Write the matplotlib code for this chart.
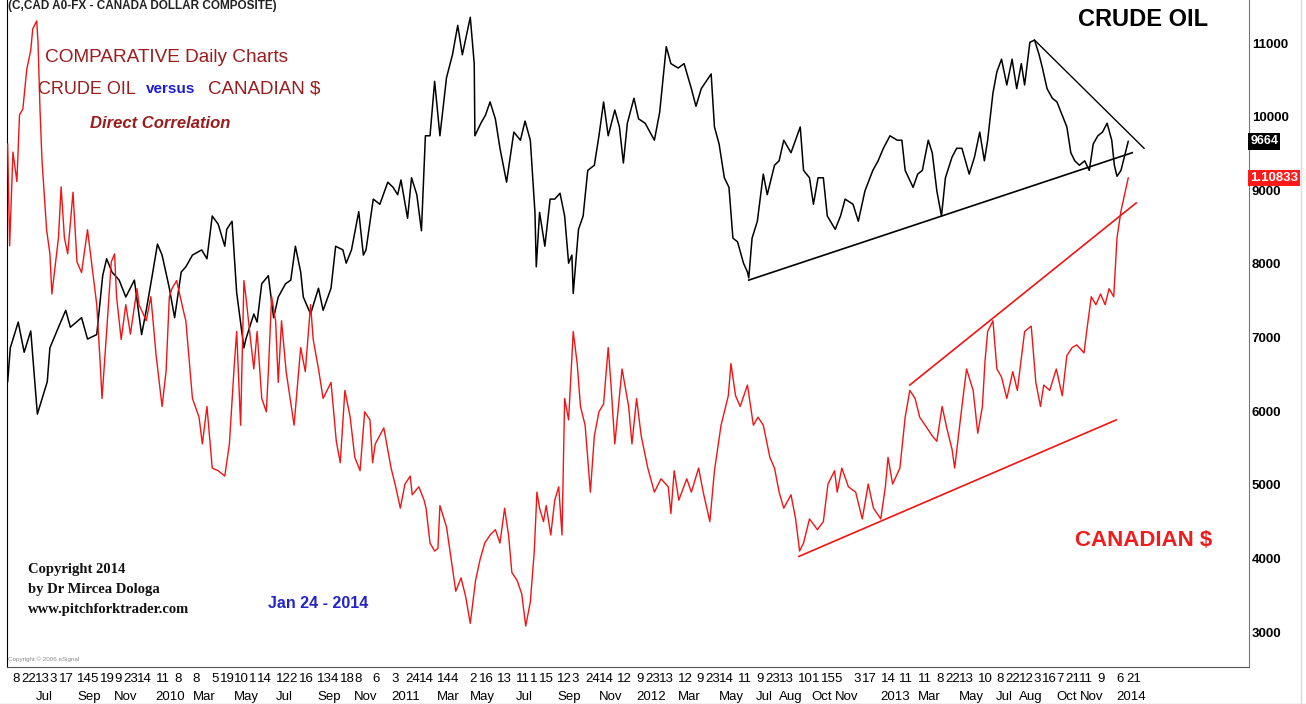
import numpy as np
import pandas as pd
import matplotlib
matplotlib.use("Agg")
import matplotlib.pyplot as plt
import matplotlib.transforms as mtransforms
from matplotlib.lines import Line2D

# crude oil composite (x100)
crude_dates = [
    "2009-06-01", "2009-06-05", "2009-06-17", "2009-06-26", "2009-07-06", "2009-07-16", "2009-07-31",
    "2009-08-04", "2009-08-17", "2009-08-28", "2009-09-04", "2009-09-21", "2009-09-30", "2009-10-14",
    "2009-10-23", "2009-10-29", "2009-11-06", "2009-11-17", "2009-11-27", "2009-12-10", "2009-12-21",
    "2009-12-28", "2010-01-06", "2010-01-14", "2010-01-21", "2010-02-01", "2010-02-09", "2010-02-19",
    "2010-02-26", "2010-03-08", "2010-03-22", "2010-03-30", "2010-04-07", "2010-04-16", "2010-04-26",
    "2010-04-29", "2010-05-07", "2010-05-14", "2010-05-25", "2010-05-28", "2010-06-09", "2010-06-14",
    "2010-06-21", "2010-07-01", "2010-07-09", "2010-07-16", "2010-07-27", "2010-08-04", "2010-08-11",
    "2010-08-19", "2010-08-23", "2010-09-03", "2010-09-15", "2010-09-22", "2010-10-04", "2010-10-11",
    "2010-10-22", "2010-10-27", "2010-11-04", "2010-11-15", "2010-11-22", "2010-11-26", "2010-12-07",
    "2010-12-17", "2010-12-29", "2011-01-06", "2011-01-13", "2011-01-18", "2011-01-28", "2011-02-03",
    "2011-02-11", "2011-02-18", "2011-02-24", "2011-03-03", "2011-03-10", "2011-03-18", "2011-03-28",
    "2011-04-06", "2011-04-14", "2011-04-21", "2011-04-29", "2011-05-03", "2011-05-09", "2011-05-10",
    "2011-05-19", "2011-05-26", "2011-06-02", "2011-06-10", "2011-06-17", "2011-06-27", "2011-07-08",
    "2011-07-18", "2011-07-25", "2011-08-02", "2011-08-09", "2011-08-11", "2011-08-16", "2011-08-24",
    "2011-09-01", "2011-09-08", "2011-09-16", "2011-09-23", "2011-09-29", "2011-10-04", "2011-10-06",
    "2011-10-14", "2011-10-21", "2011-10-28", "2011-11-07", "2011-11-14", "2011-11-21", "2011-11-28",
    "2011-12-08", "2011-12-15", "2011-12-21", "2011-12-27", "2012-01-06", "2012-01-13", "2012-01-23",
    "2012-02-06", "2012-02-14", "2012-02-24", "2012-03-02", "2012-03-13", "2012-03-22", "2012-04-02",
    "2012-04-09", "2012-04-17", "2012-05-02", "2012-05-07", "2012-05-14", "2012-05-22", "2012-05-29",
    "2012-06-04", "2012-06-11", "2012-06-20", "2012-06-26", "2012-06-28", "2012-07-03", "2012-07-11",
    "2012-07-20", "2012-07-26", "2012-08-06", "2012-08-13", "2012-08-20", "2012-08-31", "2012-09-14",
    "2012-09-19", "2012-09-28", "2012-10-04", "2012-10-11", "2012-10-19", "2012-10-25", "2012-11-06",
    "2012-11-14", "2012-11-21", "2012-12-03", "2012-12-11", "2012-12-21", "2013-01-02", "2013-01-10",
    "2013-01-18", "2013-01-28", "2013-02-08", "2013-02-15", "2013-02-20", "2013-03-04", "2013-03-11",
    "2013-03-18", "2013-03-27", "2013-04-02", "2013-04-09", "2013-04-16", "2013-04-22", "2013-05-02",
    "2013-05-09", "2013-05-17", "2013-05-28", "2013-06-05", "2013-06-13", "2013-06-20", "2013-06-25",
    "2013-07-03", "2013-07-09", "2013-07-16", "2013-07-24", "2013-08-01", "2013-08-08", "2013-08-15",
    "2013-08-20", "2013-08-28", "2013-09-04", "2013-09-11", "2013-09-16", "2013-09-23", "2013-10-01",
    "2013-10-08", "2013-10-16", "2013-10-23", "2013-10-29", "2013-11-04", "2013-11-11", "2013-11-19",
    "2013-11-26", "2013-12-02", "2013-12-09", "2013-12-16", "2013-12-23", "2013-12-30", "2014-01-03",
    "2014-01-07", "2014-01-13", "2014-01-24",
]
crude_close = [
    6400, 6860, 7210, 6800, 7090, 5960, 6400,
    6860, 7140, 7370, 7140, 7270, 6980, 7040,
    7840, 8070, 7890, 7780, 7550, 7780, 7040,
    7370, 7840, 8270, 8120, 7670, 7270, 7890,
    7960, 8120, 8190, 8070, 8650, 8540, 8240,
    8470, 8580, 7610, 6860, 6980, 7320, 7210,
    7730, 7840, 7270, 7550, 7730, 7780, 8240,
    7890, 7550, 7320, 7670, 7370, 7670, 8240,
    8190, 8010, 8190, 8710, 8120, 8190, 8880,
    8810, 9110, 9040, 8940, 9140, 8620, 9170,
    8940, 8450, 9740, 9740, 10480, 9740, 10530,
    10840, 11240, 10840, 11180, 11350, 10720, 9740,
    9910, 10020, 10200, 9970, 9570, 9110, 9790,
    9680, 9940, 9680, 8700, 7960, 8700, 8240,
    8880, 8880, 8960, 8650, 8010, 8120, 7600,
    8470, 8650, 9270, 9340, 9740, 10200, 9740,
    10090, 9860, 9370, 9910, 10250, 9970, 9910,
    9680, 10060, 10950, 10720, 10660, 10720, 10380,
    10140, 10380, 10580, 9860, 9630, 9170, 9040,
    8350, 8300, 8010, 7890, 7810, 8350, 8580,
    9220, 8940, 9340, 9400, 9680, 9510, 9860,
    9270, 9170, 8810, 9170, 9170, 8650, 8470,
    8650, 8880, 8810, 8580, 8990, 9270, 9400,
    9570, 9740, 9680, 9680, 9270, 9040, 9220,
    9270, 9680, 9510, 8990, 8650, 9170, 9450,
    9570, 9570, 9220, 9450, 9790, 9400, 9680,
    10320, 10610, 10780, 10430, 10780, 10380, 10720,
    10430, 11010, 11040, 10840, 10660, 10380, 10250,
    10200, 10020, 9860, 9510, 9400, 9340, 9400,
    9270, 9630, 9740, 9790, 9910, 9680, 9340,
    9190, 9270, 9664,
]

# USD/CAD (canadian dollar composite)
cad_dates = [
    "2009-06-01", "2009-06-04", "2009-06-09", "2009-06-15", "2009-06-19", "2009-06-24", "2009-06-30",
    "2009-07-06", "2009-07-09", "2009-07-15", "2009-07-17", "2009-07-20", "2009-07-23", "2009-07-30",
    "2009-08-04", "2009-08-07", "2009-08-17", "2009-08-21", "2009-08-26", "2009-08-31", "2009-09-08",
    "2009-09-14", "2009-09-21", "2009-09-30", "2009-10-08", "2009-10-14", "2009-10-19", "2009-10-22",
    "2009-10-29", "2009-11-05", "2009-11-10", "2009-11-13", "2009-11-20", "2009-11-27", "2009-12-04",
    "2009-12-14", "2009-12-17", "2009-12-28", "2010-01-04", "2010-01-12", "2010-01-21", "2010-01-27",
    "2010-02-01", "2010-02-05", "2010-02-12", "2010-02-23", "2010-02-26", "2010-03-08", "2010-03-18",
    "2010-03-23", "2010-03-30", "2010-04-07", "2010-04-16", "2010-04-26", "2010-05-03", "2010-05-10",
    "2010-05-14", "2010-05-20", "2010-05-25", "2010-05-28", "2010-06-04", "2010-06-09", "2010-06-14",
    "2010-06-21", "2010-06-28", "2010-07-01", "2010-07-06", "2010-07-12", "2010-07-16", "2010-07-21",
    "2010-07-28", "2010-08-09", "2010-08-19", "2010-08-26", "2010-09-03", "2010-09-07", "2010-09-15",
    "2010-09-22", "2010-10-04", "2010-10-12", "2010-10-18", "2010-10-25", "2010-11-02", "2010-11-09",
    "2010-11-17", "2010-11-24", "2010-12-02", "2010-12-06", "2010-12-10", "2010-12-23", "2011-01-03",
    "2011-01-10", "2011-01-17", "2011-01-24", "2011-02-01", "2011-02-04", "2011-02-14", "2011-02-22",
    "2011-02-25", "2011-03-03", "2011-03-10", "2011-03-15", "2011-03-18", "2011-03-28", "2011-04-04",
    "2011-04-11", "2011-04-19", "2011-04-26", "2011-05-03", "2011-05-11", "2011-05-18", "2011-05-25",
    "2011-06-02", "2011-06-10", "2011-06-17", "2011-06-24", "2011-06-30", "2011-07-05", "2011-07-13",
    "2011-07-20", "2011-07-26", "2011-08-02", "2011-08-08", "2011-08-12", "2011-08-16", "2011-08-22",
    "2011-08-26", "2011-09-02", "2011-09-08", "2011-09-14", "2011-09-19", "2011-09-23", "2011-09-29",
    "2011-10-06", "2011-10-12", "2011-10-17", "2011-10-24", "2011-11-01", "2011-11-07", "2011-11-14",
    "2011-11-21", "2011-11-28", "2011-12-02", "2011-12-08", "2011-12-19", "2011-12-29", "2012-01-03",
    "2012-01-10", "2012-01-17", "2012-01-27", "2012-02-06", "2012-02-16", "2012-02-27", "2012-03-02",
    "2012-03-07", "2012-03-14", "2012-03-26", "2012-04-02", "2012-04-13", "2012-04-20", "2012-04-30",
    "2012-05-07", "2012-05-17", "2012-05-28", "2012-06-01", "2012-06-08", "2012-06-15", "2012-06-26",
    "2012-07-05", "2012-07-12", "2012-07-20", "2012-07-30", "2012-08-06", "2012-08-13", "2012-08-20",
    "2012-08-31", "2012-09-07", "2012-09-13", "2012-09-19", "2012-09-28", "2012-10-10", "2012-10-19",
    "2012-10-26", "2012-11-05", "2012-11-09", "2012-11-16", "2012-11-26", "2012-12-07", "2012-12-17",
    "2012-12-26", "2013-01-03", "2013-01-14", "2013-01-21", "2013-01-25", "2013-02-01", "2013-02-12",
    "2013-02-20", "2013-02-27", "2013-03-07", "2013-03-14", "2013-03-25", "2013-04-02", "2013-04-09",
    "2013-04-17", "2013-04-24", "2013-05-02", "2013-05-06", "2013-05-17", "2013-05-24", "2013-06-03",
    "2013-06-10", "2013-06-17", "2013-06-21", "2013-06-25", "2013-07-03", "2013-07-09", "2013-07-16",
    "2013-07-24", "2013-08-02", "2013-08-09", "2013-08-20", "2013-08-30", "2013-09-06", "2013-09-13",
    "2013-09-18", "2013-09-27", "2013-10-07", "2013-10-16", "2013-10-23", "2013-10-31", "2013-11-07",
    "2013-11-18", "2013-11-22", "2013-11-29", "2013-12-06", "2013-12-13", "2013-12-20", "2013-12-26",
    "2014-01-02", "2014-01-07", "2014-01-13", "2014-01-24",
]
cad_close = [
    1.121, 1.083, 1.118, 1.107, 1.132, 1.134, 1.149,
    1.156, 1.164, 1.167, 1.159, 1.134, 1.115, 1.089,
    1.080, 1.065, 1.086, 1.105, 1.086, 1.080, 1.103,
    1.077, 1.073, 1.089, 1.073, 1.061, 1.040, 1.026,
    1.051, 1.077, 1.080, 1.064, 1.048, 1.061, 1.050,
    1.067, 1.061, 1.055, 1.064, 1.042, 1.023, 1.036,
    1.064, 1.067, 1.070, 1.058, 1.055, 1.026, 1.019,
    1.009, 1.023, 1.000, 0.999, 0.997, 1.009, 1.037,
    1.051, 1.016, 1.070, 1.064, 1.048, 1.037, 1.051,
    1.026, 1.021, 1.036, 1.064, 1.055, 1.032, 1.055,
    1.036, 1.016, 1.045, 1.036, 1.061, 1.048, 1.037,
    1.026, 1.032, 1.010, 1.002, 1.029, 1.019, 1.004,
    0.999, 1.021, 1.018, 1.002, 1.009, 1.015, 1.000,
    0.993, 0.985, 0.994, 0.997, 0.990, 0.993, 0.988,
    0.985, 0.972, 0.969, 0.970, 0.986, 0.978, 0.966,
    0.954, 0.959, 0.952, 0.942, 0.958, 0.966, 0.972,
    0.975, 0.977, 0.972, 0.985, 0.975, 0.961, 0.958,
    0.953, 0.941, 0.950, 0.969, 0.991, 0.985, 0.980,
    0.986, 0.975, 0.988, 0.993, 0.975, 1.026, 1.018,
    1.051, 1.039, 1.023, 1.016, 0.991, 1.012, 1.021,
    1.024, 1.045, 1.032, 1.009, 1.037, 1.023, 1.009,
    1.026, 1.012, 1.000, 0.991, 0.996, 0.993, 0.983,
    0.999, 0.988, 0.996, 0.991, 1.000, 0.991, 0.980,
    0.999, 1.016, 1.027, 1.039, 1.027, 1.023, 1.031,
    1.016, 1.019, 1.016, 1.004, 1.000, 0.991, 0.985,
    0.990, 0.981, 0.969, 0.972, 0.981, 0.977, 0.980,
    0.994, 0.999, 0.991, 1.000, 0.993, 0.991, 0.981,
    0.994, 0.985, 0.981, 0.993, 1.004, 0.994, 1.000,
    1.019, 1.029, 1.026, 1.019, 1.015, 1.012, 1.010,
    1.023, 1.015, 1.007, 1.000, 1.023, 1.037, 1.029,
    1.013, 1.023, 1.040, 1.051, 1.055, 1.037, 1.034,
    1.026, 1.036, 1.029, 1.051, 1.053, 1.032, 1.023,
    1.031, 1.029, 1.037, 1.027, 1.042, 1.045, 1.046,
    1.043, 1.051, 1.064, 1.061, 1.065, 1.061, 1.067,
    1.064, 1.086, 1.096, 1.10833,
]

# hand drawn trend lines (start, end)
crude_support_dates = ["2012-06-28", "2014-01-30"]
crude_support_vals = [7780, 9510]
crude_resist_dates = ["2013-09-04", "2014-02-17"]
crude_resist_vals = [11040, 9570]
cad_upper_dates = ["2013-02-27", "2014-02-05"]
cad_upper_vals = [1.031, 1.099]
cad_lower_dates = ["2012-09-12", "2014-01-06"]
cad_lower_vals = [0.967, 1.018]

# x axis labels
day_ticks = [
    "2009-06-08", "2009-06-22", "2009-07-13", "2009-08-03", "2009-08-17", "2009-09-14", "2009-10-05",
    "2009-10-19", "2009-11-09", "2009-11-23", "2009-12-14", "2010-01-11", "2010-02-08", "2010-03-08",
    "2010-04-05", "2010-04-19", "2010-05-10", "2010-06-01", "2010-06-14", "2010-07-12", "2010-08-02",
    "2010-08-16", "2010-09-13", "2010-10-04", "2010-10-18", "2010-11-08", "2010-12-06", "2011-01-03",
    "2011-01-24", "2011-02-14", "2011-03-14", "2011-04-04", "2011-05-02", "2011-05-16", "2011-06-13",
    "2011-07-11", "2011-08-01", "2011-08-15", "2011-09-12", "2011-10-03", "2011-10-24", "2011-11-14",
    "2011-12-12", "2012-01-09", "2012-01-23", "2012-02-13", "2012-03-12", "2012-04-09", "2012-04-23",
    "2012-05-14", "2012-06-11", "2012-07-09", "2012-07-23", "2012-08-13", "2012-09-10", "2012-10-01",
    "2012-10-15", "2012-11-05", "2012-12-03", "2012-12-17", "2013-01-14", "2013-02-11", "2013-03-11",
    "2013-04-08", "2013-04-22", "2013-05-13", "2013-06-10", "2013-07-08", "2013-07-22", "2013-08-12",
    "2013-09-03", "2013-09-16", "2013-10-07", "2013-10-21", "2013-11-11", "2013-12-09", "2014-01-06",
    "2014-01-21",
]
month_ticks = [
    "2009-07-13", "2009-09-14", "2009-11-09", "2010-01-11", "2010-03-08", "2010-05-10", "2010-07-12",
    "2010-09-13", "2010-11-08", "2011-01-03", "2011-03-14", "2011-05-02", "2011-07-11", "2011-09-12",
    "2011-11-14", "2012-01-09", "2012-03-12", "2012-05-14", "2012-07-09", "2012-08-13", "2012-10-01",
    "2012-11-05", "2013-01-14", "2013-03-11", "2013-05-13", "2013-07-08", "2013-08-12", "2013-10-07",
    "2013-11-11", "2014-01-06",
]
month_labels = [
    "Jul", "Sep", "Nov", "2010", "Mar", "May", "Jul", "Sep", "Nov", "2011", "Mar", "May", "Jul", "Sep",
    "Nov", "2012", "Mar", "May", "Jul", "Aug", "Oct", "Nov", "2013", "Mar", "May", "Jul", "Aug", "Oct",
    "Nov", "2014",
]
price_ticks = [3000, 4000, 5000, 6000, 7000, 8000, 9000, 10000, 11000]

W, H = 1306, 704
DARKRED = "#9a1c1c"
NARROW = ["Liberation Sans Narrow", "Liberation Sans", "DejaVu Sans"]

fig = plt.figure(figsize=(W / 100, H / 100), dpi=100)
fig.patch.set_facecolor("white")
ax = fig.add_axes([7 / W, 1 - 667 / H, (1249 - 7) / W, 667 / H])
ax2 = ax.twinx()

ax.plot(pd.to_datetime(crude_dates), crude_close, color="black", lw=1.1, zorder=3)
ax.plot(pd.to_datetime(crude_support_dates), crude_support_vals, color="black", lw=1.2)
ax.plot(pd.to_datetime(crude_resist_dates), crude_resist_vals, color="black", lw=1.0)

ax2.plot(pd.to_datetime(cad_dates), cad_close, color="#f01414", lw=1.0, zorder=3)
ax2.plot(pd.to_datetime(cad_upper_dates), cad_upper_vals, color="#f01414", lw=1.2)
ax2.plot(pd.to_datetime(cad_lower_dates), cad_lower_vals, color="#f01414", lw=1.2)

ax.set_xlim(pd.Timestamp("2009-05-31"), pd.Timestamp("2014-07-26"))
ax.set_ylim(2526, 11584)
ax2.set_ylim(0.9257, 1.1748)

# right price scale
ax.yaxis.tick_right()
ax.set_yticks(price_ticks)
ax.set_yticklabels([str(v) for v in price_ticks])
ax.tick_params(axis="y", length=0, pad=2, labelsize=9.5)
for lab in ax.get_yticklabels():
    lab.set_family(NARROW)
    lab.set_fontweight("bold")
ax2.yaxis.set_visible(False)

# date scale, two rows (day numbers and months share positions)
ax.xaxis.remove_overlapping_locs = False
days = pd.to_datetime(day_ticks)
ax.set_xticks(days)
ax.set_xticklabels([str(d.day) for d in days])
ax.set_xticks(pd.to_datetime(month_ticks), minor=True)
ax.set_xticklabels(month_labels, minor=True)
ax.tick_params(axis="x", which="major", length=0, pad=4, labelsize=9.5)
ax.tick_params(axis="x", which="minor", length=0, pad=17, labelsize=9.5)
for lab in ax.get_xticklabels() + ax.get_xticklabels(minor=True):
    lab.set_family(NARROW)
    lab.set_ha("left")

for a in (ax, ax2):
    a.spines["top"].set_visible(False)
ax.spines["left"].set_color("black")
ax.spines["bottom"].set_color("#555555")
ax.spines["right"].set_color("#777777")
ax2.spines["left"].set_visible(False)
ax2.spines["bottom"].set_visible(False)
ax2.spines["right"].set_visible(False)

# last value flags
trans1 = mtransforms.blended_transform_factory(ax.transAxes, ax.transData)
ax.text(1.001, crude_close[-1], str(crude_close[-1]), transform=trans1, ha="left", va="center",
        color="white", fontsize=9, fontweight="bold", family=NARROW, zorder=10,
        bbox=dict(facecolor="black", edgecolor="none", pad=1.5))
trans2 = mtransforms.blended_transform_factory(ax2.transAxes, ax2.transData)
ax2.text(1.001, cad_close[-1], "%.5f" % cad_close[-1], transform=trans2, ha="left", va="center",
         color="white", fontsize=9.5, fontweight="bold", family=NARROW, zorder=10,
         bbox=dict(facecolor="#ff1a1a", edgecolor="none", pad=1.5))

# annotations
def ftxt(x, y, s, **kw):
    fig.text(x / W, 1 - y / H, s, va="center", **kw)

ftxt(8, 6, "(C,CAD A0-FX - CANADA DOLLAR COMPOSITE)", fontsize=8.5, fontweight="bold",
     family="Liberation Sans", color="#222222")
ftxt(45, 57, "COMPARATIVE Daily Charts", fontsize=13.7, color=DARKRED, family="Liberation Sans")
ftxt(38, 89, "CRUDE OIL", fontsize=13, color=DARKRED, family="Liberation Sans")
ftxt(146, 89, "versus", fontsize=11, color="#1c1cd0", fontweight="bold", family="Liberation Sans")
ftxt(208, 89, "CANADIAN $", fontsize=13.5, color=DARKRED, family="Liberation Sans")
ftxt(90, 123, "Direct Correlation", fontsize=12, color=DARKRED, fontweight="bold",
     fontstyle="italic", family="Liberation Sans")
ftxt(1078, 20, "CRUDE OIL", fontsize=17, color="black", fontweight="bold", family="Liberation Sans")
ftxt(1075, 540, "CANADIAN $", fontsize=16, color="#ee1c1c", fontweight="bold", family="Liberation Sans")
for i, line in enumerate(["Copyright 2014", "by Dr Mircea Dologa", "www.pitchforktrader.com"]):
    ftxt(28, 569 + 20 * i, line, fontsize=10.5, fontweight="bold", family="Liberation Serif",
         color="#111111")
ftxt(268, 604, "Jan 24 - 2014", fontsize=11.5, fontweight="bold", color="#2424c8",
     family="Liberation Sans")
ftxt(8, 659, "Copyright \u00a9 2006 eSignal", fontsize=4.5, color="#888888", family="Liberation Sans")

# outer frame bits
fig.add_artist(Line2D([0, 1], [0.5 / H, 0.5 / H], transform=fig.transFigure, color="#bbbbbb", lw=1))
fig.add_artist(Line2D([1301 / W, 1301 / W], [0, 1], transform=fig.transFigure, color="#dddddd", lw=1))

fig.savefig("out.png", dpi=100, facecolor="white")
